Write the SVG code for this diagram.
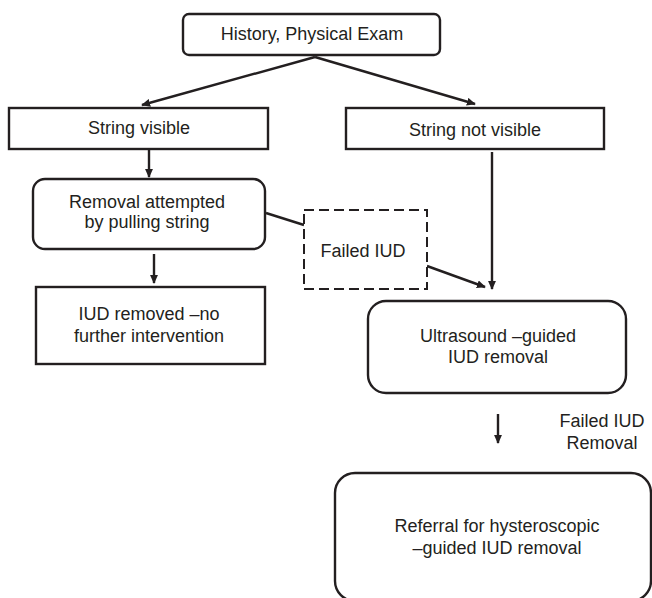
<svg xmlns="http://www.w3.org/2000/svg" width="652" height="598" viewBox="0 0 652 598">
<style>
.box{fill:#fff;stroke:#231f20;stroke-width:2.4}
.dash{fill:#fff;stroke:#231f20;stroke-width:2;stroke-dasharray:10 5}
.t{font-family:"Liberation Sans",Arial,sans-serif;font-size:18px;fill:#231f20;text-anchor:middle}
.c{stroke:#231f20;stroke-width:2.4;fill:none}
</style>
<defs>
<marker id="ah" viewBox="0 0 10 10" refX="9" refY="5" markerWidth="9" markerHeight="8" orient="auto" markerUnits="userSpaceOnUse" preserveAspectRatio="none">
<path d="M0,0 L10,5 L0,10 z" fill="#231f20"/>
</marker>
</defs>
<rect width="652" height="598" fill="#fff"/>
<g id="connectors">
<line class="c" x1="315" y1="57" x2="142" y2="105" marker-end="url(#ah)"/>
<line class="c" x1="315" y1="57" x2="475" y2="104" marker-end="url(#ah)"/>
<line class="c" x1="149" y1="150" x2="149" y2="177" marker-end="url(#ah)"/>
<line class="c" x1="492" y1="152" x2="492" y2="289" marker-end="url(#ah)"/>
<line class="c" x1="266" y1="213" x2="304" y2="225"/>
<line class="c" x1="427" y1="266" x2="485" y2="287" marker-end="url(#ah)"/>
<line class="c" x1="154" y1="254" x2="154" y2="283" marker-end="url(#ah)"/>
<line class="c" x1="498" y1="414" x2="498" y2="443" marker-end="url(#ah)"/>
</g>
<g id="n1"><rect class="box" x="183" y="14" width="257" height="41" rx="6"/><text class="t" x="312" y="40">History, Physical Exam</text></g>
<g id="n2"><rect class="box" x="9" y="108" width="259" height="41"/><text class="t" x="139" y="134">String visible</text></g>
<g id="n3"><rect class="box" x="346" y="108" width="258" height="41"/><text class="t" x="475" y="136">String not visible</text></g>
<g id="n4"><rect class="box" x="33" y="179" width="232" height="70" rx="12"/><text class="t" x="147" y="208">Removal attempted</text><text class="t" x="147" y="228">by pulling string</text></g>
<g id="n5"><rect class="dash" x="304" y="210" width="123" height="79"/><text class="t" x="363" y="257">Failed IUD</text></g>
<g id="n6"><rect class="box" x="36" y="287" width="229" height="77"/><text class="t" x="149" y="320">IUD removed –no</text><text class="t" x="149" y="342">further intervention</text></g>
<g id="n7"><rect class="box" x="368" y="301" width="258" height="92" rx="18"/><text class="t" x="498" y="342">Ultrasound –guided</text><text class="t" x="498" y="363">IUD removal</text></g>
<g id="n8"><text class="t" x="602" y="427">Failed IUD</text><text class="t" x="602" y="449">Removal</text></g>
<g id="n9"><rect class="box" x="335" y="473" width="316" height="128" rx="20"/><text class="t" x="497" y="532">Referral for hysteroscopic</text><text class="t" x="497" y="554">–guided IUD removal</text></g>
</svg>
